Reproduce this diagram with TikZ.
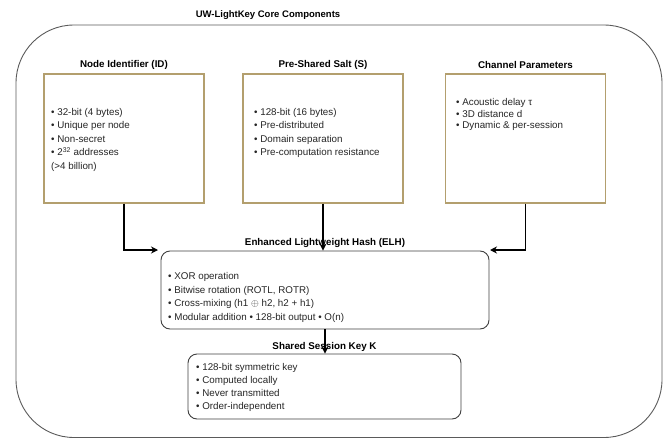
\documentclass[tikz,border=0pt]{standalone}
\usepackage{fontspec}
\setmainfont{Liberation Sans}
\usetikzlibrary{arrows.meta}
\definecolor{boxtan}{HTML}{B39F6E}
\definecolor{framegray}{HTML}{5A5A5A}
\begin{document}
\begin{tikzpicture}[x=1pt,y=-1pt,
  frame/.style={draw=framegray, line width=0.9pt, rounded corners=58pt},
  srcbox/.style={draw=boxtan, line width=1.2pt, fill=white, minimum width=160pt, minimum height=129pt, inner sep=0pt},
  roundbox/.style={draw=black!75, line width=0.9pt, fill=white, rounded corners=9pt, inner sep=0pt},
  heading/.style={font=\fontsize{9.8}{11}\selectfont\bfseries, inner sep=0pt},
  bigheading/.style={font=\fontsize{9.5}{12}\selectfont\bfseries, inner sep=0pt},
  items/.style={font=\fontsize{9.8}{13.5}\selectfont, align=left, anchor=north west, inner sep=0pt, text=black!85},
  link/.style={draw=black, line width=1.2pt, -{Stealth[length=7pt,width=7pt]}}
]
\useasboundingbox (0,0) rectangle (664,439);

% outer frame and title
\draw[frame] (16,25) rectangle (662,437.5);
\node[bigheading] (title) at (268,15) {UW-LightKey Core Components};

% three input components
\node[srcbox] (nid) at (124,138.5) {};
\node[srcbox] (salt) at (323,138.5) {};
\node[srcbox] (chan) at (525.5,138.5) {};

\node[heading] (nidT) at (124,65) {Node Identifier (ID)};
\node[heading] (saltT) at (323,65) {Pre-Shared Salt (S)};
\node[heading] (chanT) at (525.5,65) {Channel Parameters};

\node[items] (nidL) at (51,108) {• 32-bit (4 bytes)\\• Unique per node\\• Non-secret\\• 2\textsuperscript{32} addresses\\(>4 billion)};
\node[items] (saltL) at (254,108) {• 128-bit (16 bytes)\\• Pre-distributed\\• Domain separation\\• Pre-computation resistance};
\node[items, font=\fontsize{9.8}{11.7}\selectfont] (chanL) at (456,98) {• Acoustic delay τ\\• 3D distance d\\• Dynamic \& per-session};

% hash function
\node[roundbox, minimum width=328pt, minimum height=78pt] (elh) at (325,290) {};
\node[heading] (elhT) at (325,243) {Enhanced Lightweight Hash (ELH)};
\node[items, font=\fontsize{9.8}{13.7}\selectfont] (elhL) at (168,272) {• XOR operation\\• Bitwise rotation (ROTL, ROTR)\\• Cross-mixing (h1 $\oplus$ h2, h2 + h1)\\• Modular addition • 128-bit output • O(n)};

% session key
\node[roundbox, minimum width=273pt, minimum height=65pt] (key) at (324.5,386.5) {};
\node[heading] (keyT) at (324.5,347) {Shared Session Key K};
\node[items, font=\fontsize{9.8}{13}\selectfont] (keyL) at (196,363) {• 128-bit symmetric key\\• Computed locally\\• Never transmitted\\• Order-independent};

% connectors
\coordinate (inL) at (158,250);
\coordinate (inR) at (490,250);
\draw[link] (nid.south) |- (inL);
\draw[link] (salt.south) -- (salt.south |- elh.north);
\draw[link] (chan.south) |- (inR);
\draw[link] (elh.south) -- (elh.south |- key.north);
\end{tikzpicture}
\end{document}
